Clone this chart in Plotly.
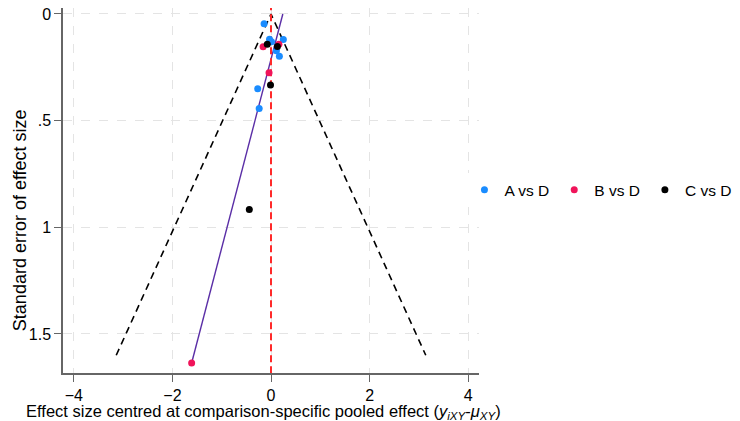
"""Comparison-adjusted funnel plot: A/B/C vs D, with pseudo 95% limits and Egger-type line."""
import plotly.graph_objects as go

# --- data ---
a_x = [-0.14, -0.03, 0.01, 0.25, 0.11, 0.17, -0.27, -0.24]
a_se = [0.046, 0.119, 0.13, 0.12, 0.172, 0.198, 0.35, 0.443]
b_x = [-0.16, 0.16, -0.04, -1.61]
b_se = [0.154, 0.142, 0.275, 1.636]
c_x = [-0.075, 0.13, -0.01, -0.44]
c_se = [0.142, 0.152, 0.333, 0.917]

funnel_se = [1.6, 0.0, 1.6]
funnel_x = [-3.14, 0.0, 3.14]
reg_x = [0.24, -1.61]
reg_se = [0.0, 1.636]

x_ticks = [-4, -2, 0, 2, 4]
y_ticks = [0, 0.5, 1, 1.5]
y_labels = ["0", ".5", "1", "1.5"]

FONT = "Liberation Sans, Arial, sans-serif"

fig = go.Figure()
fig.add_trace(go.Scatter(x=funnel_x, y=funnel_se, mode="lines", showlegend=False,
                         line=dict(color="black", width=1.6, dash="7px,5px"), hoverinfo="skip"))
fig.add_trace(go.Scatter(x=reg_x, y=reg_se, mode="lines", showlegend=False,
                         line=dict(color="#5a2ea6", width=1.4), hoverinfo="skip"))
fig.add_trace(go.Scatter(x=[0, 0], y=[-0.05, 1.7], mode="lines", showlegend=False,
                         line=dict(color="#ff2a2a", width=2, dash="7px,4px"), hoverinfo="skip"))

for name, xs, ys, col in [("A vs D", a_x, a_se, "#1a8cff"),
                          ("B vs D", b_x, b_se, "#f0145a"),
                          ("C vs D", c_x, c_se, "black")]:
    fig.add_trace(go.Scatter(x=xs, y=ys, mode="markers", name=name,
                             marker=dict(color=col, size=7)))

axis_common = dict(showline=True, linecolor="#666", linewidth=1.5, ticks="outside",
                   ticklen=7, tickcolor="#666", tickwidth=1.2, showgrid=True,
                   gridcolor="#e4e4e4", griddash="dash", gridwidth=1, zeroline=False,
                   tickfont=dict(size=16, color="black"), automargin=False,
                   ticklabeloverflow="allow")

fig.update_xaxes(range=[-4.22, 4.22], tickvals=x_ticks, **axis_common)
fig.update_yaxes(range=[1.683, -0.028], tickvals=y_ticks, ticktext=y_labels, **axis_common)

# axis titles as annotations so they sit where the reference has them
fig.add_annotation(text="Effect size centred at comparison-specific pooled effect "
                        "(<i>y</i><sub><i>iXY</i></sub>-<i>μ</i><sub><i>XY</i></sub>)",
                   xref="paper", yref="paper", x=0.483, y=-0.107, xanchor="center",
                   yanchor="middle", showarrow=False, font=dict(size=16.5))
fig.add_annotation(text="Standard error of effect size", textangle=-90,
                   xref="paper", yref="paper", x=-0.132, y=0.419, xanchor="left",
                   yanchor="middle", showarrow=False, font=dict(size=18))

# the page body adds an 8px offset, so margins are set 8px tighter than the reference
fig.update_layout(
    width=740, height=421,
    margin=dict(l=55, r=269, t=0, b=56, autoexpand=False),
    plot_bgcolor="white", paper_bgcolor="white",
    font=dict(family=FONT, color="black"),
    legend=dict(orientation="h", x=0.965, y=0.501, xanchor="left", yanchor="middle",
                font=dict(size=15.5), itemwidth=30),
)

fig.write_html("out.html")
